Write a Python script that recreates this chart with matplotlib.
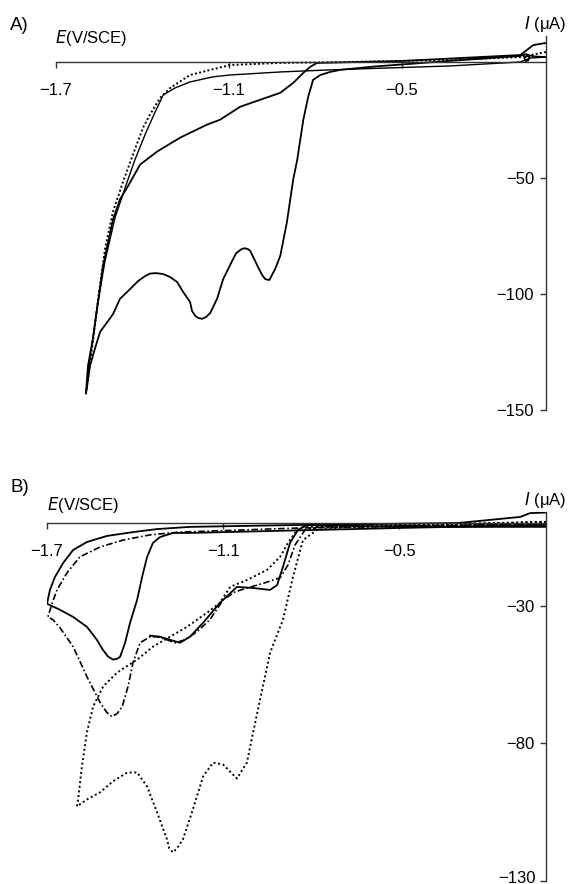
import matplotlib
matplotlib.use("Agg")
import matplotlib.pyplot as plt

plt.rcParams['font.family'] = ['Liberation Sans', 'DejaVu Sans']

# ---- panel A: cyclic voltammograms, E (V/SCE) vs I (uA) ----
a_peak_E = [0.0, -0.04, -0.062, -0.075, -0.072, -0.062, -0.058, -0.068, -0.09,
            -0.33, -0.60, -0.714, -0.749, -0.783, -0.808, -0.825, -0.842, -0.863,
            -0.877, -0.899, -0.922, -0.940, -0.960, -0.974, -0.985, -0.999, -1.009,
            -1.026, -1.033, -1.044, -1.054, -1.061, -1.075, -1.089, -1.120, -1.141,
            -1.165, -1.179, -1.193, -1.207, -1.217, -1.228, -1.235, -1.259, -1.280,
            -1.304, -1.328, -1.353, -1.374, -1.391, -1.415, -1.453, -1.478, -1.502,
            -1.519, -1.547, -1.565, -1.582, -1.596,
            -1.589, -1.572, -1.537, -1.502, -1.478, -1.453, -1.408, -1.349, -1.269,
            -1.176, -1.131, -1.061, -0.992, -0.922, -0.877, -0.842, -0.818, -0.794,
            -0.506, -0.089, -0.044, 0.0]
a_peak_I = [2.1, 2.4, 2.9, 1.8, 0.4, 0.6, 2.2, 3.4, 2.6,
            0.5, -2.0, -3.4, -4.3, -5.6, -7.7, -15.0, -24.9, -42.1,
            -50.6, -69.1, -83.6, -89.3, -94.0, -93.6, -91.8, -88.4, -85.8,
            -81.5, -80.7, -80.3, -80.5, -81.1, -82.4, -85.8, -93.6, -102.0,
            -108.2, -109.9, -110.7, -110.3, -109.4, -107.3, -103.4, -99.1, -94.8,
            -92.7, -91.4, -91.0, -91.2, -92.3, -94.4, -99.1, -102.1, -108.6,
            -111.6, -116.3, -123.6, -130.9, -142.9,
            -130.9, -119.3, -88.0, -67.8, -59.2, -54.1, -44.2, -38.6, -32.6,
            -27.0, -24.9, -19.3, -16.3, -13.3, -9.0, -4.7, -2.1, -0.4,
            0.4, 3.0, 7.3, 8.2]

a_blank_E = [0.0, -0.089, -0.332, -0.679, -0.922, -1.096, -1.235, -1.304, -1.339,
             -1.374, -1.398, -1.433, -1.467, -1.502, -1.530, -1.554, -1.575, -1.596]
a_blank_I = [4.3, 2.1, 0.9, 0.0, -0.4, -1.3, -5.6, -11.2, -15.5,
             -22.7, -28.3, -39.9, -51.5, -64.4, -80.7, -102.1, -123.6, -142.9]

a_second_E = [-1.596, -1.582, -1.558, -1.530, -1.495, -1.460, -1.426, -1.391, -1.356,
              -1.328, -1.287, -1.235, -1.155, -1.096, -0.922, -0.749, -0.332, -0.089,
              -0.054, 0.0]
a_second_I = [-142.9, -127.9, -106.4, -85.8, -67.0, -54.1, -42.1, -31.3, -21.5,
              -14.2, -11.2, -8.6, -6.4, -5.6, -4.3, -3.4, -1.7, 0.0,
              1.7, 2.1]

# ---- panel B ----
b_solid_E = [0.0, -0.5, -1.213, -1.271, -1.315, -1.339, -1.359, -1.376, -1.393,
             -1.417, -1.434, -1.451, -1.461, -1.475, -1.492, -1.510, -1.530, -1.564,
             -1.611, -1.656, -1.700, -1.690, -1.673, -1.645, -1.611, -1.564, -1.496,
             -1.407, -1.325, -1.213, -0.838, -0.30, -0.088, -0.054, 0.0]
b_solid_I = [-0.7, -1.8, -3.6, -3.6, -5.1, -7.2, -12.3, -19.6, -27.9,
             -36.2, -43.5, -48.6, -49.3, -49.6, -48.5, -46.0, -42.4, -37.7,
             -34.1, -31.5, -29.3, -24.3, -19.6, -14.5, -9.8, -6.9, -4.7,
             -3.3, -2.2, -1.4, -0.7, 0.0, 2.2, 3.6, 3.8]

b_dip_E = [0.0, -0.5, -0.814, -0.845, -0.872, -0.896, -0.916, -0.940, -0.998,
           -1.053, -1.111, -1.168, -1.213, -1.247, -1.281, -1.315, -1.349]
b_dip_I = [-1.4, -1.4, -0.7, -2.5, -7.2, -15.9, -22.5, -24.3, -23.6,
           -23.2, -29.0, -36.2, -41.3, -43.5, -42.4, -41.3, -40.9]

b_dashdot_E = [0.0, -0.5, -0.770, -0.821, -0.855, -0.879, -0.906, -0.957, -1.019,
               -1.059, -1.100, -1.145, -1.189, -1.230, -1.264, -1.291, -1.325, -1.349,
               -1.383, -1.407, -1.424, -1.444, -1.461, -1.479, -1.496, -1.519, -1.564,
               -1.611, -1.656, -1.680, -1.697, -1.683, -1.666, -1.632, -1.588, -1.519,
               -1.441, -1.349, -1.247, -0.838, 0.0]
b_dashdot_I = [-0.4, -1.1, -1.4, -2.5, -8.0, -15.2, -19.9, -21.7, -23.6,
               -25.0, -27.9, -35.1, -39.5, -42.4, -43.5, -42.4, -41.3, -41.3,
               -43.5, -50.7, -59.4, -66.7, -69.2, -70.3, -68.8, -65.2, -55.8,
               -44.9, -38.0, -35.1, -34.1, -29.3, -24.3, -18.1, -12.3, -8.7,
               -6.2, -4.3, -3.3, -1.8, -0.4]

b_dotted_E = [0.0, -0.327, -0.668, -0.780, -0.828, -0.862, -0.896, -0.940, -0.974,
              -0.998, -1.019, -1.053, -1.100, -1.134, -1.168, -1.203, -1.237, -1.257,
              -1.271, -1.284, -1.291, -1.325, -1.359, -1.393, -1.427, -1.475, -1.519,
              -1.564, -1.598,
              -1.594, -1.581, -1.564, -1.543, -1.509, -1.461, -1.393, -1.339, -1.281,
              -1.223, -1.155, -1.111, -1.076, -1.019, -0.950, -0.906, -0.879, -0.855,
              -0.828, -0.668, 0.0]
b_dotted_I = [0.4, -0.7, -1.4, -2.5, -6.2, -19.6, -35.1, -47.1, -64.1,
              -76.1, -87.0, -92.8, -87.7, -87.0, -92.0, -104.0, -114.9, -118.1,
              -119.6, -118.1, -114.9, -105.1, -95.7, -90.6, -90.6, -93.8, -97.8,
              -100.4, -102.9,
              -100.4, -88.4, -76.1, -66.7, -59.4, -54.3, -49.6, -44.9, -41.3,
              -37.7, -32.6, -29.0, -23.2, -20.7, -17.0, -12.3, -7.2, -3.6,
              -1.4, -1.1, 0.4]

e_ticks = [-1.7, -1.1, -0.5]
a_yticks = [-50, -100, -150]
b_yticks = [-30, -80, -130]

W, H = 569, 884
fig = plt.figure(figsize=(W / 100, H / 100), dpi=100)


def axes_px(x0, x1, y_top, y_bot):
    return fig.add_axes([x0 / W, 1 - y_bot / H, (x1 - x0) / W, (y_bot - y_top) / H])


def minus(v, fmt):
    return '\u2212' + fmt % abs(v)


def style_axes(ax, ylim, yticks, ylabels):
    ax.set_xlim(-1.7, 0.0)
    ax.set_ylim(*ylim)
    for s in ('top', 'right'):
        ax.spines[s].set_visible(False)
    ax.spines['left'].set_position(('data', 0.0))
    ax.spines['bottom'].set_position(('data', 0.0))
    for s in ('left', 'bottom'):
        ax.spines[s].set_color('#333333')
        ax.spines[s].set_linewidth(1.0)
    ax.set_xticks(e_ticks)
    ax.set_xticklabels([minus(v, '%.1f') for v in e_ticks])
    ax.set_yticks(yticks)
    ax.set_yticklabels(ylabels)
    ax.tick_params(axis='x', direction='out', length=4, width=1.0, pad=11,
                   labelsize=12, color='#333333')
    ax.tick_params(axis='y', direction='out', length=4.5, width=1.0, pad=4,
                   labelsize=12, color='#333333')
    ax.patch.set_alpha(0)


# panel A
ax1 = axes_px(56, 546, 36, 410)
style_axes(ax1, (-150, 11.2), a_yticks, [minus(v, '%d') for v in a_yticks])
ax1.plot(a_peak_E, a_peak_I, color='black', lw=1.3, solid_joinstyle='round')
ax1.plot(a_blank_E, a_blank_I, color='black', lw=1.4, ls=(0, (1, 1.2)))
ax1.plot(a_second_E, a_second_I, color='black', lw=1.0)

# panel B (lowest tick label sits on the figure edge, so it is nudged up a little)
ax2 = axes_px(47, 546, 512, 881)
style_axes(ax2, (-130, 4.0), b_yticks,
           [minus(v, '%d') for v in b_yticks[:-1]] + [''])
ax2.annotate(minus(b_yticks[-1], '%d'), xy=(0.0, b_yticks[-1]), xytext=(-7.5, 2),
             textcoords='offset points', ha='right', va='center', fontsize=12)
ax2.plot(b_solid_E, b_solid_I, color='black', lw=1.3, solid_joinstyle='round')
ax2.plot(b_dip_E, b_dip_I, color='black', lw=1.3, solid_joinstyle='round')
ax2.plot(b_dashdot_E, b_dashdot_I, color='black', lw=1.2, ls=(0, (4, 1.5, 1, 1.5)))
ax2.plot(b_dotted_E, b_dotted_I, color='black', lw=1.4, ls=(0, (1, 1.4)))

# panel letters and axis titles
for letter, y_letter, x_e, y_e, y_i in (('A)', 26, 55, 38, 24), ('B)', 487, 47, 505, 500)):
    fig.text(10 / W, 1 - y_letter / H, letter, fontsize=13.5, va='center', ha='left')
    fig.text(x_e / W, 1 - y_e / H, r'$\mathit{E}$(V/SCE)', fontsize=12, va='center',
             ha='left')
    fig.text(566 / W, 1 - y_i / H, '$\\mathit{I}$ (\u03bcA)', fontsize=12,
             va='center', ha='right')

fig.savefig('out.png', dpi=100)
